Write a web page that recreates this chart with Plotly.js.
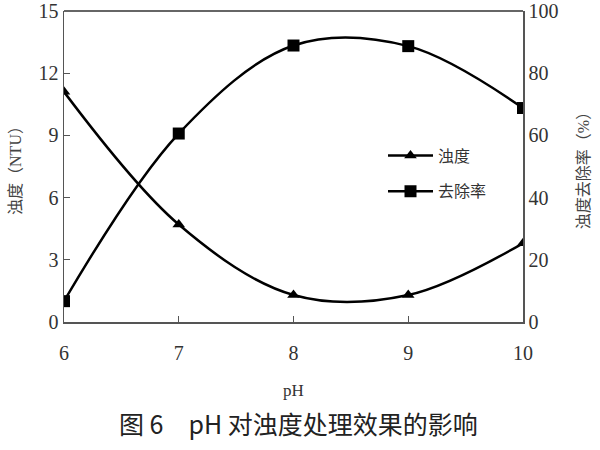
<!DOCTYPE html>
<html>
<head>
<meta charset="utf-8">
<script src="https://cdn.plot.ly/plotly-3.0.1.min.js"></script>
<style>
  body { margin: 0; background: #fff; }
  #chart { width: 600px; height: 450px; }
</style>
</head>
<body>
<div id="chart"></div>
<script>
var ph = [6, 7, 8, 9, 10];
var turbidity = [11.1, 4.7, 1.3, 1.3, 3.8];      // 浊度 (NTU)
var removal = [6.7, 60.6, 88.9, 88.7, 68.8];      // 去除率 (%)
var leftTicks = [0, 3, 6, 9, 12, 15];
var rightTicks = [0, 20, 40, 60, 80, 100];

var serif = 'Liberation Serif, Noto Sans CJK SC';
var digits = 'Liberation Serif';

var trace1 = {
  x: ph,
  y: turbidity,
  name: '浊度',
  legendgroup: 'a',
  type: 'scatter',
  mode: 'lines+markers',
  line: { color: '#000', width: 2.5, shape: 'spline', smoothing: 1 },
  marker: { symbol: 'triangle-up', size: 11, color: '#000' }
};

var trace2 = {
  x: ph,
  y: removal,
  name: '去除率',
  legendgroup: 'b',
  yaxis: 'y2',
  type: 'scatter',
  mode: 'lines+markers',
  line: { color: '#000', width: 2.5, shape: 'spline', smoothing: 1 },
  marker: { symbol: 'square', size: 12, color: '#000' }
};

// empty trace so the tick-only overlay axis is drawn
var tickTrace = { x: ph, y: turbidity, xaxis: 'x2', mode: 'none', showlegend: false, hoverinfo: 'skip' };

var layout = {
  width: 600,
  height: 450,
  margin: { l: 64, r: 77, t: 11, b: 128 },
  paper_bgcolor: '#fff',
  plot_bgcolor: '#fff',
  font: { family: serif, color: '#222', size: 16 },
  showlegend: true,
  legend: {
    x: 0.695, y: 0.59, xanchor: 'left', yanchor: 'top',
    bgcolor: 'rgba(0,0,0,0)',
    font: { family: serif, size: 16, color: '#333' },
    tracegroupgap: 12,
    itemwidth: 45
  },
  // labelled x axis: invisible outside ticks push the labels down
  xaxis: {
    range: [6, 10],
    tickmode: 'array',
    tickvals: ph,
    ticks: 'outside', ticklen: 12, tickcolor: 'rgba(0,0,0,0)',
    showline: true, linecolor: '#555', linewidth: 1.5,
    showgrid: false, zeroline: false,
    tickfont: { family: digits, size: 20, color: '#333' },
    title: { text: 'pH', font: { family: digits, size: 17, color: '#333' }, standoff: 21 }
  },
  // overlay x axis only for the inside tick marks
  xaxis2: {
    range: [6, 10],
    overlaying: 'x',
    anchor: 'y',
    side: 'bottom',
    tickmode: 'array',
    tickvals: ph,
    ticks: 'inside', ticklen: 6, tickcolor: '#555', tickwidth: 1.2,
    showticklabels: false,
    showline: false, showgrid: false, zeroline: false
  },
  yaxis: {
    range: [0, 15],
    tickmode: 'array',
    tickvals: leftTicks,
    ticks: 'inside', ticklen: 6, tickcolor: '#555',
    showline: true, linecolor: '#555', linewidth: 1.5,
    showgrid: false, zeroline: false,
    tickfont: { family: digits, size: 20, color: '#333' },
    title: { text: '浊度（NTU）', font: { family: serif, size: 16, color: '#444' }, standoff: 13 }
  },
  yaxis2: {
    range: [0, 100],
    tickmode: 'array',
    tickvals: rightTicks,
    overlaying: 'y',
    side: 'right',
    ticks: '',
    showline: true, linecolor: '#555', linewidth: 1.5,
    showgrid: false, zeroline: false,
    tickfont: { family: digits, size: 20, color: '#333' },
    title: { text: '浊度去除率（%）', font: { family: serif, size: 16, color: '#444' }, standoff: 20 }
  },
  shapes: [{
    type: 'line', xref: 'paper', yref: 'paper',
    x0: 0, x1: 1, y0: 1, y1: 1,
    line: { color: '#333', width: 1.5 }
  }],
  annotations: [{
    text: '图 6　pH 对浊度处理效果的影响',
    xref: 'paper', yref: 'paper',
    x: 0.5, y: -0.325, xanchor: 'center', yanchor: 'middle',
    showarrow: false,
    xshift: 5,
    font: { family: 'Noto Sans CJK SC', size: 25, color: '#222' }
  }]
};

var config = { displayModeBar: false, staticPlot: true };

Plotly.newPlot('chart', [trace1, trace2, tickTrace], layout, config);
</script>
</body>
</html>
